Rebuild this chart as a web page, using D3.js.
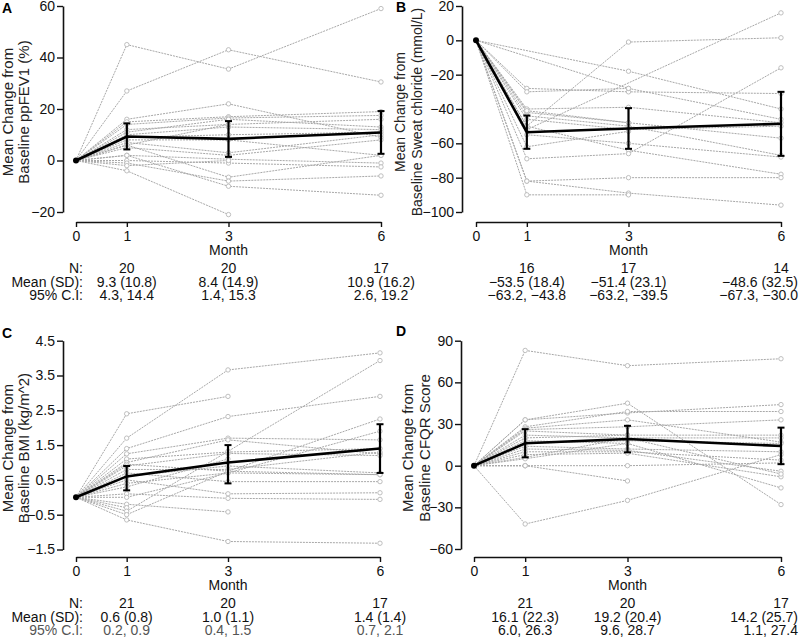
<!DOCTYPE html>
<html><head><meta charset="utf-8">
<script src="https://cdn.jsdelivr.net/npm/d3@7"></script>
<style>body{margin:0;background:#fff}svg{display:block}</style>
</head><body>
<script>
// ---------- data ----------
const months = [0, 1, 3, 6];
const monthTickLabels = ["0", "1", "3", "6"];
const rowLabels = ["N:", "Mean (SD):", "95% C.I:"];

// Panel A: ppFEV1 — each patient: [month1, month3, month6]
const ppfev1Patients = [
  [45, 35.5, 59], [27, 43, 30.5], [16, 22, 9], [15, 17, 19], [14, 16.5, 17.5],
  [12, 14, 16], [11, 16, 13], [10, 13, 12], [9, 10, 11], [8, 8, 2],
  [7, 3, 10], [6, -6.5, 2], [6, 14, null], [5, 2, 8], [2, -10, -13.5],
  [2, 0.5, -1], [0, -1, -2.5], [-1, -8, -6], [-2, 0, null], [-4, -21, null]
];
const ppfev1Mean = [0, 9.3, 8.4, 10.9];
const ppfev1Lo = [0, 4.3, 1.4, 2.6];
const ppfev1Hi = [0, 14.4, 15.3, 19.2];
const ppfev1Ticks = [-20, 0, 20, 40, 60];
const ppfev1N = ["20", "20", "17"];
const ppfev1MeanSD = ["9.3 (10.8)", "8.4 (14.9)", "10.9 (16.2)"];
const ppfev1CI = ["4.3, 14.4", "1.4, 15.3", "2.6, 19.2"];

// Panel B: sweat chloride
const chloridePatients = [
  [-28, -30, -31], [-30, -28, -46], [-40, -39, -48], [-42, -48, -57], [-44, -50, -67],
  [-46, -52, -50], [-50, -1, 1.5], [-52, null, 16], [-55, -60, -68], [-50, -64, -78],
  [-69, -66, -16], [-62, -53, null], [-82, -80, -80], [-82, -89, -96], [-90, -90, null],
  [-41, -48, null], [null, -18, -40], [null, -28, null]
];
const chlorideMean = [0, -53.5, -51.4, -48.6];
const chlorideLo = [0, -63.2, -63.2, -67.3];
const chlorideHi = [0, -43.8, -39.5, -30.0];
const chlorideTicks = [-100, -80, -60, -40, -20, 0, 20];
const chlorideN = ["16", "17", "14"];
const chlorideMeanSD = ["\u221253.5 (18.4)", "\u221251.4 (23.1)", "\u221248.6 (32.5)"];
const chlorideCI = ["\u221263.2, \u221243.8", "\u221263.2, \u221239.5", "\u221267.3, \u221230.0"];

// Panel C: BMI
const bmiPatients = [
  [2.4, 2.9, null], [1.7, 3.66, 4.15], [1.4, 2.32, 2.9], [1.25, 1.7, 1.65], [1.1, 1.3, 1.4],
  [1.0, 1.65, 1.25], [0.95, 0.75, 0.65], [0.9, 1.26, 1.2], [0.8, 0.8, 1.3], [0.7, 0.45, 0.45],
  [0.6, 0.9, 0.7], [0.5, 0.1, 0.13], [0.4, 0.7, 1.9], [0.3, 1.1, null], [0.1, -0.03, -0.06],
  [0.0, 0.7, 0.65], [-0.2, -0.42, null], [-0.3, null, null], [-0.4, 1.32, 3.93], [-0.5, 0.75, 2.25],
  [-0.65, -1.27, -1.32]
];
const bmiMean = [0, 0.6, 1.0, 1.4];
const bmiLo = [0, 0.2, 0.4, 0.7];
const bmiHi = [0, 0.9, 1.5, 2.1];
const bmiTicks = [-1.5, -0.5, 0.5, 1.5, 2.5, 3.5, 4.5];
const bmiN = ["21", "20", "17"];
const bmiMeanSD = ["0.6 (0.8)", "1.0 (1.1)", "1.4 (1.4)"];
const bmiCI = ["0.2, 0.9", "0.4, 1.5", "0.7, 2.1"];

// Panel D: CFQR
const cfqrPatients = [
  [83, 72, 77], [33, 45, -28], [33, 38, 44], [28, 39, 39], [27, 33, 17],
  [26, 28, 33], [25, 22, 22], [22, 20, 20], [20, 22, null], [18, 16, -16],
  [16, 18, 16], [14, 12, 10], [12, 11, -4], [10, 10, 4], [8, 9, -8],
  [6, 20, -6], [5, 16, null], [0, 0, 2], [0, -11, null], [0, null, null],
  [-42, -25, 8]
];
const cfqrMean = [0, 16.1, 19.2, 14.2];
const cfqrLo = [0, 6.0, 9.6, 1.1];
const cfqrHi = [0, 26.3, 28.7, 27.4];
const cfqrTicks = [-60, -30, 0, 30, 60, 90];
const cfqrN = ["21", "20", "17"];
const cfqrMeanSD = ["16.1 (22.3)", "19.2 (20.4)", "14.2 (25.7)"];
const cfqrCI = ["6.0, 26.3", "9.6, 28.7", "1.1, 27.4"];

// ---------- drawing ----------
const svg = d3.select("body").append("svg").attr("width", 800).attr("height", 642)
  .style("font-family", "Arial, 'Liberation Sans', Helvetica, sans-serif");

const panels = [
  {label: "A", lx: 2, ly: 13, axisX: 63, xr: [76, 381], yr: [212, 6], xAxisY: 222, titleX: [13, 29],
   patients: ppfev1Patients, mean: ppfev1Mean, lo: ppfev1Lo, hi: ppfev1Hi, domain: [-20, 60], ticks: ppfev1Ticks, fmt: d3.format("d"),
   title: ["Mean Change from", "Baseline ppFEV1 (%)"], n: ppfev1N, msd: ppfev1MeanSD, ci: ppfev1CI, rows: true, ciColor: "#111"},
  {label: "B", lx: 396, ly: 12, axisX: 462, xr: [476, 781], yr: [212, 6], xAxisY: 222, titleX: [405, 422],
   patients: chloridePatients, mean: chlorideMean, lo: chlorideLo, hi: chlorideHi, domain: [-100, 20], ticks: chlorideTicks, fmt: d3.format("d"),
   title: ["Mean Change from", "Baseline Sweat chloride (mmol/L)"], n: chlorideN, msd: chlorideMeanSD, ci: chlorideCI, rows: false, ciColor: "#111", titleSize: 14},
  {label: "C", lx: 2, ly: 338, axisX: 63, xr: [76, 380], yr: [549.5, 340.7], xAxisY: 557, titleX: [13, 29],
   patients: bmiPatients, mean: bmiMean, lo: bmiLo, hi: bmiHi, domain: [-1.5, 4.5], ticks: bmiTicks, fmt: d3.format(".1f"),
   title: ["Mean Change from", "Baseline BMI (kg/m^2)"], n: bmiN, msd: bmiMeanSD, ci: bmiCI, rows: true, ciColor: "#555"},
  {label: "D", lx: 396, ly: 336, axisX: 461, xr: [474, 781], yr: [549, 340.7], xAxisY: 557, titleX: [413, 430],
   patients: cfqrPatients, mean: cfqrMean, lo: cfqrLo, hi: cfqrHi, domain: [-60, 90], ticks: cfqrTicks, fmt: d3.format("d"),
   title: ["Mean Change from", "Baseline CFQR Score"], n: cfqrN, msd: cfqrMeanSD, ci: cfqrCI, rows: false, ciColor: "#111"}
];

panels.forEach(p => {
  const g = svg.append("g");
  const x = d3.scaleLinear().domain([0, 6]).range(p.xr);
  const y = d3.scaleLinear().domain(p.domain).range(p.yr);

  // panel label
  g.append("text").attr("x", p.lx).attr("y", p.ly).attr("font-size", 14).attr("font-weight", "bold").text(p.label);

  // y axis
  const ya = g.append("g").attr("transform", `translate(${p.axisX},0)`)
    .call(d3.axisLeft(y).tickValues(p.ticks).tickFormat(p.fmt).tickSize(6).tickSizeOuter(0).tickPadding(2));
  ya.select(".domain").attr("stroke", "#111").attr("stroke-width", 1.6);
  ya.selectAll(".tick line").attr("stroke", "#111").attr("stroke-width", 1.4);
  ya.selectAll(".tick text").attr("font-size", 14).attr("fill", "#111").attr("font-family", null);

  // x axis
  const xa = g.append("g").attr("transform", `translate(0,${p.xAxisY})`)
    .call(d3.axisBottom(x).tickValues(months).tickFormat((d, i) => monthTickLabels[i]).tickSize(5).tickSizeOuter(0).tickPadding(4));
  xa.select(".domain").attr("stroke", "#111").attr("stroke-width", 1.6);
  xa.selectAll(".tick line").attr("stroke", "#111").attr("stroke-width", 1.4);
  xa.selectAll(".tick text").attr("font-size", 14).attr("fill", "#111").attr("font-family", null);

  g.append("text").attr("x", (p.xr[0] + p.xr[1]) / 2).attr("y", p.xAxisY + 33)
    .attr("text-anchor", "middle").attr("font-size", 14).attr("fill", "#111").text("Month");

  // y title
  const yc = (p.yr[0] + p.yr[1]) / 2 + 3;
  p.title.forEach((t, i) => {
    g.append("text").attr("transform", `translate(${p.titleX[i]},${yc}) rotate(-90)`)
      .attr("text-anchor", "middle").attr("font-size", p.titleSize || 15).attr("fill", "#222").text(t);
  });

  // patient lines
  const line = d3.line().x(d => x(d[0])).y(d => y(d[1]));
  const series = p.patients.map(v => [[0, 0]].concat(v.map((val, i) => [months[i + 1], val]).filter(d => d[1] !== null)));
  g.append("g").selectAll("path").data(series).join("path")
    .attr("d", line).attr("fill", "none").attr("stroke", "#a8a8a8").attr("stroke-width", 1)
    .attr("stroke-dasharray", "2,1");
  g.append("g").selectAll("circle").data(series.flatMap(s => s.slice(1))).join("circle")
    .attr("cx", d => x(d[0])).attr("cy", d => y(d[1])).attr("r", 2.2)
    .attr("fill", "#fff").attr("stroke", "#b8b8b8").attr("stroke-width", 0.9);

  // mean line
  const meanPts = months.map((m, i) => [m, p.mean[i]]);
  g.append("path").datum(meanPts).attr("d", line).attr("fill", "none").attr("stroke", "#000").attr("stroke-width", 2.6);
  // error bars
  const eb = g.append("g").selectAll("g").data(months.slice(1).map((m, i) => ({m, lo: p.lo[i + 1], hi: p.hi[i + 1]}))).join("g");
  eb.append("line").attr("x1", d => x(d.m)).attr("x2", d => x(d.m)).attr("y1", d => y(d.lo)).attr("y2", d => y(d.hi))
    .attr("stroke", "#000").attr("stroke-width", 2.2);
  ["lo", "hi"].forEach(k => {
    eb.append("line").attr("x1", d => x(d.m) - 3.5).attr("x2", d => x(d.m) + 3.5)
      .attr("y1", d => y(d[k])).attr("y2", d => y(d[k])).attr("stroke", "#000").attr("stroke-width", 2);
  });
  g.append("circle").attr("cx", x(0)).attr("cy", y(0)).attr("r", 3).attr("fill", "#000");

  // table
  const rowsY = [p.xAxisY + 51, p.xAxisY + 64.5, p.xAxisY + 78];
  if (p.rows) {
    rowLabels.forEach((t, i) => {
      g.append("text").attr("x", 83).attr("y", rowsY[i]).attr("text-anchor", "end").attr("font-size", 14)
        .attr("fill", i === 2 ? p.ciColor : "#111").text(t);
    });
  }
  [p.n, p.msd, p.ci].forEach((arr, r) => {
    arr.forEach((t, i) => {
      const tx = g.append("text").attr("x", x(months[i + 1])).attr("y", rowsY[r]).attr("text-anchor", "middle")
        .attr("font-size", 14).attr("fill", r === 2 ? p.ciColor : "#111").text(t);
      const w = tx.node().getComputedTextLength();
      const cx = x(months[i + 1]);
      if (cx + w / 2 > 798) tx.attr("x", 798 - w / 2);
    });
  });
});
</script>
</body></html>
